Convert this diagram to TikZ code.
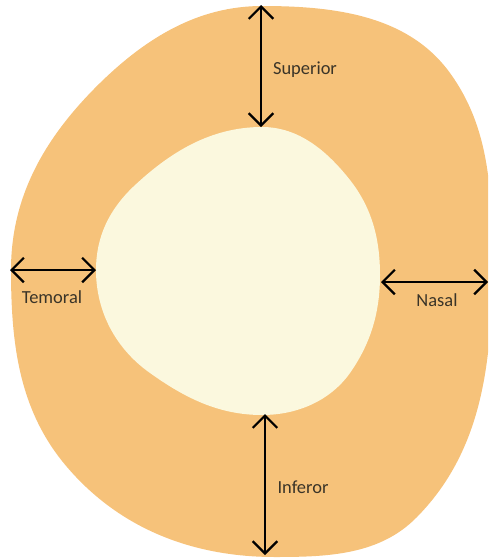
\documentclass[tikz,border=0pt]{standalone}
\usepackage{fontspec}
\setmainfont{Carlito}
\usetikzlibrary{arrows.meta}
\definecolor{rim}{RGB}{246,194,122}
\definecolor{disc}{RGB}{251,248,222}
\definecolor{ink}{RGB}{58,52,40}

\begin{document}
\begin{tikzpicture}[x=0.02cm,y=-0.02cm,
    dist/.style={{Straight Barb[length=7pt,width=14pt]}-{Straight Barb[length=7pt,width=14pt]}, line width=1.3pt, black},
    lbl/.style={font=\fontsize{10.5}{12}\selectfont, text=ink}]

\useasboundingbox (0,0) rectangle (488,558);
\clip (0,0) rectangle (488,558);

% outer rim
\fill[rim] (262,6) .. controls (334,6) and (408,15) .. (450,73)
  .. controls (492,131) and (492,198) .. (492,270)
  .. controls (492,363) and (482,451) .. (417,517)
  .. controls (380,555) and (328,557) .. (275,557)
  .. controls (193,557) and (120,529) .. (67,467)
  .. controls (19,411) and (11,344) .. (11,270)
  .. controls (11,195) and (46,136) .. (100,83)
  .. controls (146,38) and (198,6) .. (262,6) -- cycle;

% inner disc
\fill[disc] (262,127) .. controls (299,127) and (327,151) .. (350,180)
  .. controls (372,208) and (380,239) .. (380,275)
  .. controls (380,312) and (371,343) .. (350,373)
  .. controls (330,401) and (297,415) .. (262,415)
  .. controls (219,415) and (185,398) .. (150,373)
  .. controls (116,349) and (96,312) .. (96,270)
  .. controls (96,237) and (109,210) .. (133,187)
  .. controls (170,152) and (211,127) .. (262,127) -- cycle;

\coordinate (supA) at (261,5);
\coordinate (supB) at (261,127);
\coordinate (temA) at (10,270);
\coordinate (temB) at (96,270);
\coordinate (nasA) at (381,282);
\coordinate (nasB) at (488,282);
\coordinate (infA) at (265,414);
\coordinate (infB) at (265,555);

\node [lbl] (sup) at (305,70) {Superior};
\node [lbl] (tem) at (52,297) {Temoral};
\node [lbl] (nas) at (437,300) {Nasal};
\node [lbl] (inf) at (303,487) {Inferor};

\draw[dist] (supA) -- (supB);
\draw[dist] (temA) -- (temB);
\draw[dist] (nasA) -- (nasB);
\draw[dist] (infA) -- (infB);
\end{tikzpicture}
\end{document}
